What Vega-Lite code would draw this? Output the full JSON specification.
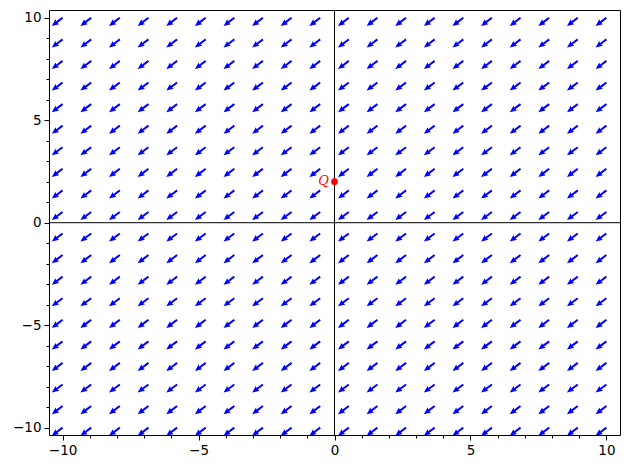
{
  "$schema": "https://vega.github.io/schema/vega-lite/v6.json",
  "width": 571,
  "height": 425,
  "autosize": {"type": "none"},
  "padding": {"left": 49, "top": 10, "right": 10, "bottom": 35},
  "background": "white",
  "config": {
    "view": {"stroke": "black", "strokeWidth": 1},
    "axis": {"labelFont": "DejaVu Sans", "labelFontSize": 13.5, "labelColor": "black", "tickColor": "black", "domain": false, "grid": false, "title": null}
  },
  "datasets": {
    "field": [
      {"x":-10,"y":-10},{"x":-8.947,"y":-10},{"x":-7.895,"y":-10},{"x":-6.842,"y":-10},{"x":-5.789,"y":-10},{"x":-4.737,"y":-10},{"x":-3.684,"y":-10},{"x":-2.632,"y":-10},{"x":-1.579,"y":-10},{"x":-0.526,"y":-10},{"x":0.526,"y":-10},{"x":1.579,"y":-10},{"x":2.632,"y":-10},{"x":3.684,"y":-10},{"x":4.737,"y":-10},{"x":5.789,"y":-10},{"x":6.842,"y":-10},{"x":7.895,"y":-10},{"x":8.947,"y":-10},{"x":10,"y":-10},
      {"x":-10,"y":-8.947},{"x":-8.947,"y":-8.947},{"x":-7.895,"y":-8.947},{"x":-6.842,"y":-8.947},{"x":-5.789,"y":-8.947},{"x":-4.737,"y":-8.947},{"x":-3.684,"y":-8.947},{"x":-2.632,"y":-8.947},{"x":-1.579,"y":-8.947},{"x":-0.526,"y":-8.947},{"x":0.526,"y":-8.947},{"x":1.579,"y":-8.947},{"x":2.632,"y":-8.947},{"x":3.684,"y":-8.947},{"x":4.737,"y":-8.947},{"x":5.789,"y":-8.947},{"x":6.842,"y":-8.947},{"x":7.895,"y":-8.947},{"x":8.947,"y":-8.947},{"x":10,"y":-8.947},
      {"x":-10,"y":-7.895},{"x":-8.947,"y":-7.895},{"x":-7.895,"y":-7.895},{"x":-6.842,"y":-7.895},{"x":-5.789,"y":-7.895},{"x":-4.737,"y":-7.895},{"x":-3.684,"y":-7.895},{"x":-2.632,"y":-7.895},{"x":-1.579,"y":-7.895},{"x":-0.526,"y":-7.895},{"x":0.526,"y":-7.895},{"x":1.579,"y":-7.895},{"x":2.632,"y":-7.895},{"x":3.684,"y":-7.895},{"x":4.737,"y":-7.895},{"x":5.789,"y":-7.895},{"x":6.842,"y":-7.895},{"x":7.895,"y":-7.895},{"x":8.947,"y":-7.895},{"x":10,"y":-7.895},
      {"x":-10,"y":-6.842},{"x":-8.947,"y":-6.842},{"x":-7.895,"y":-6.842},{"x":-6.842,"y":-6.842},{"x":-5.789,"y":-6.842},{"x":-4.737,"y":-6.842},{"x":-3.684,"y":-6.842},{"x":-2.632,"y":-6.842},{"x":-1.579,"y":-6.842},{"x":-0.526,"y":-6.842},{"x":0.526,"y":-6.842},{"x":1.579,"y":-6.842},{"x":2.632,"y":-6.842},{"x":3.684,"y":-6.842},{"x":4.737,"y":-6.842},{"x":5.789,"y":-6.842},{"x":6.842,"y":-6.842},{"x":7.895,"y":-6.842},{"x":8.947,"y":-6.842},{"x":10,"y":-6.842},
      {"x":-10,"y":-5.789},{"x":-8.947,"y":-5.789},{"x":-7.895,"y":-5.789},{"x":-6.842,"y":-5.789},{"x":-5.789,"y":-5.789},{"x":-4.737,"y":-5.789},{"x":-3.684,"y":-5.789},{"x":-2.632,"y":-5.789},{"x":-1.579,"y":-5.789},{"x":-0.526,"y":-5.789},{"x":0.526,"y":-5.789},{"x":1.579,"y":-5.789},{"x":2.632,"y":-5.789},{"x":3.684,"y":-5.789},{"x":4.737,"y":-5.789},{"x":5.789,"y":-5.789},{"x":6.842,"y":-5.789},{"x":7.895,"y":-5.789},{"x":8.947,"y":-5.789},{"x":10,"y":-5.789},
      {"x":-10,"y":-4.737},{"x":-8.947,"y":-4.737},{"x":-7.895,"y":-4.737},{"x":-6.842,"y":-4.737},{"x":-5.789,"y":-4.737},{"x":-4.737,"y":-4.737},{"x":-3.684,"y":-4.737},{"x":-2.632,"y":-4.737},{"x":-1.579,"y":-4.737},{"x":-0.526,"y":-4.737},{"x":0.526,"y":-4.737},{"x":1.579,"y":-4.737},{"x":2.632,"y":-4.737},{"x":3.684,"y":-4.737},{"x":4.737,"y":-4.737},{"x":5.789,"y":-4.737},{"x":6.842,"y":-4.737},{"x":7.895,"y":-4.737},{"x":8.947,"y":-4.737},{"x":10,"y":-4.737},
      {"x":-10,"y":-3.684},{"x":-8.947,"y":-3.684},{"x":-7.895,"y":-3.684},{"x":-6.842,"y":-3.684},{"x":-5.789,"y":-3.684},{"x":-4.737,"y":-3.684},{"x":-3.684,"y":-3.684},{"x":-2.632,"y":-3.684},{"x":-1.579,"y":-3.684},{"x":-0.526,"y":-3.684},{"x":0.526,"y":-3.684},{"x":1.579,"y":-3.684},{"x":2.632,"y":-3.684},{"x":3.684,"y":-3.684},{"x":4.737,"y":-3.684},{"x":5.789,"y":-3.684},{"x":6.842,"y":-3.684},{"x":7.895,"y":-3.684},{"x":8.947,"y":-3.684},{"x":10,"y":-3.684},
      {"x":-10,"y":-2.632},{"x":-8.947,"y":-2.632},{"x":-7.895,"y":-2.632},{"x":-6.842,"y":-2.632},{"x":-5.789,"y":-2.632},{"x":-4.737,"y":-2.632},{"x":-3.684,"y":-2.632},{"x":-2.632,"y":-2.632},{"x":-1.579,"y":-2.632},{"x":-0.526,"y":-2.632},{"x":0.526,"y":-2.632},{"x":1.579,"y":-2.632},{"x":2.632,"y":-2.632},{"x":3.684,"y":-2.632},{"x":4.737,"y":-2.632},{"x":5.789,"y":-2.632},{"x":6.842,"y":-2.632},{"x":7.895,"y":-2.632},{"x":8.947,"y":-2.632},{"x":10,"y":-2.632},
      {"x":-10,"y":-1.579},{"x":-8.947,"y":-1.579},{"x":-7.895,"y":-1.579},{"x":-6.842,"y":-1.579},{"x":-5.789,"y":-1.579},{"x":-4.737,"y":-1.579},{"x":-3.684,"y":-1.579},{"x":-2.632,"y":-1.579},{"x":-1.579,"y":-1.579},{"x":-0.526,"y":-1.579},{"x":0.526,"y":-1.579},{"x":1.579,"y":-1.579},{"x":2.632,"y":-1.579},{"x":3.684,"y":-1.579},{"x":4.737,"y":-1.579},{"x":5.789,"y":-1.579},{"x":6.842,"y":-1.579},{"x":7.895,"y":-1.579},{"x":8.947,"y":-1.579},{"x":10,"y":-1.579},
      {"x":-10,"y":-0.526},{"x":-8.947,"y":-0.526},{"x":-7.895,"y":-0.526},{"x":-6.842,"y":-0.526},{"x":-5.789,"y":-0.526},{"x":-4.737,"y":-0.526},{"x":-3.684,"y":-0.526},{"x":-2.632,"y":-0.526},{"x":-1.579,"y":-0.526},{"x":-0.526,"y":-0.526},{"x":0.526,"y":-0.526},{"x":1.579,"y":-0.526},{"x":2.632,"y":-0.526},{"x":3.684,"y":-0.526},{"x":4.737,"y":-0.526},{"x":5.789,"y":-0.526},{"x":6.842,"y":-0.526},{"x":7.895,"y":-0.526},{"x":8.947,"y":-0.526},{"x":10,"y":-0.526},
      {"x":-10,"y":0.526},{"x":-8.947,"y":0.526},{"x":-7.895,"y":0.526},{"x":-6.842,"y":0.526},{"x":-5.789,"y":0.526},{"x":-4.737,"y":0.526},{"x":-3.684,"y":0.526},{"x":-2.632,"y":0.526},{"x":-1.579,"y":0.526},{"x":-0.526,"y":0.526},{"x":0.526,"y":0.526},{"x":1.579,"y":0.526},{"x":2.632,"y":0.526},{"x":3.684,"y":0.526},{"x":4.737,"y":0.526},{"x":5.789,"y":0.526},{"x":6.842,"y":0.526},{"x":7.895,"y":0.526},{"x":8.947,"y":0.526},{"x":10,"y":0.526},
      {"x":-10,"y":1.579},{"x":-8.947,"y":1.579},{"x":-7.895,"y":1.579},{"x":-6.842,"y":1.579},{"x":-5.789,"y":1.579},{"x":-4.737,"y":1.579},{"x":-3.684,"y":1.579},{"x":-2.632,"y":1.579},{"x":-1.579,"y":1.579},{"x":-0.526,"y":1.579},{"x":0.526,"y":1.579},{"x":1.579,"y":1.579},{"x":2.632,"y":1.579},{"x":3.684,"y":1.579},{"x":4.737,"y":1.579},{"x":5.789,"y":1.579},{"x":6.842,"y":1.579},{"x":7.895,"y":1.579},{"x":8.947,"y":1.579},{"x":10,"y":1.579},
      {"x":-10,"y":2.632},{"x":-8.947,"y":2.632},{"x":-7.895,"y":2.632},{"x":-6.842,"y":2.632},{"x":-5.789,"y":2.632},{"x":-4.737,"y":2.632},{"x":-3.684,"y":2.632},{"x":-2.632,"y":2.632},{"x":-1.579,"y":2.632},{"x":-0.526,"y":2.632},{"x":0.526,"y":2.632},{"x":1.579,"y":2.632},{"x":2.632,"y":2.632},{"x":3.684,"y":2.632},{"x":4.737,"y":2.632},{"x":5.789,"y":2.632},{"x":6.842,"y":2.632},{"x":7.895,"y":2.632},{"x":8.947,"y":2.632},{"x":10,"y":2.632},
      {"x":-10,"y":3.684},{"x":-8.947,"y":3.684},{"x":-7.895,"y":3.684},{"x":-6.842,"y":3.684},{"x":-5.789,"y":3.684},{"x":-4.737,"y":3.684},{"x":-3.684,"y":3.684},{"x":-2.632,"y":3.684},{"x":-1.579,"y":3.684},{"x":-0.526,"y":3.684},{"x":0.526,"y":3.684},{"x":1.579,"y":3.684},{"x":2.632,"y":3.684},{"x":3.684,"y":3.684},{"x":4.737,"y":3.684},{"x":5.789,"y":3.684},{"x":6.842,"y":3.684},{"x":7.895,"y":3.684},{"x":8.947,"y":3.684},{"x":10,"y":3.684},
      {"x":-10,"y":4.737},{"x":-8.947,"y":4.737},{"x":-7.895,"y":4.737},{"x":-6.842,"y":4.737},{"x":-5.789,"y":4.737},{"x":-4.737,"y":4.737},{"x":-3.684,"y":4.737},{"x":-2.632,"y":4.737},{"x":-1.579,"y":4.737},{"x":-0.526,"y":4.737},{"x":0.526,"y":4.737},{"x":1.579,"y":4.737},{"x":2.632,"y":4.737},{"x":3.684,"y":4.737},{"x":4.737,"y":4.737},{"x":5.789,"y":4.737},{"x":6.842,"y":4.737},{"x":7.895,"y":4.737},{"x":8.947,"y":4.737},{"x":10,"y":4.737},
      {"x":-10,"y":5.789},{"x":-8.947,"y":5.789},{"x":-7.895,"y":5.789},{"x":-6.842,"y":5.789},{"x":-5.789,"y":5.789},{"x":-4.737,"y":5.789},{"x":-3.684,"y":5.789},{"x":-2.632,"y":5.789},{"x":-1.579,"y":5.789},{"x":-0.526,"y":5.789},{"x":0.526,"y":5.789},{"x":1.579,"y":5.789},{"x":2.632,"y":5.789},{"x":3.684,"y":5.789},{"x":4.737,"y":5.789},{"x":5.789,"y":5.789},{"x":6.842,"y":5.789},{"x":7.895,"y":5.789},{"x":8.947,"y":5.789},{"x":10,"y":5.789},
      {"x":-10,"y":6.842},{"x":-8.947,"y":6.842},{"x":-7.895,"y":6.842},{"x":-6.842,"y":6.842},{"x":-5.789,"y":6.842},{"x":-4.737,"y":6.842},{"x":-3.684,"y":6.842},{"x":-2.632,"y":6.842},{"x":-1.579,"y":6.842},{"x":-0.526,"y":6.842},{"x":0.526,"y":6.842},{"x":1.579,"y":6.842},{"x":2.632,"y":6.842},{"x":3.684,"y":6.842},{"x":4.737,"y":6.842},{"x":5.789,"y":6.842},{"x":6.842,"y":6.842},{"x":7.895,"y":6.842},{"x":8.947,"y":6.842},{"x":10,"y":6.842},
      {"x":-10,"y":7.895},{"x":-8.947,"y":7.895},{"x":-7.895,"y":7.895},{"x":-6.842,"y":7.895},{"x":-5.789,"y":7.895},{"x":-4.737,"y":7.895},{"x":-3.684,"y":7.895},{"x":-2.632,"y":7.895},{"x":-1.579,"y":7.895},{"x":-0.526,"y":7.895},{"x":0.526,"y":7.895},{"x":1.579,"y":7.895},{"x":2.632,"y":7.895},{"x":3.684,"y":7.895},{"x":4.737,"y":7.895},{"x":5.789,"y":7.895},{"x":6.842,"y":7.895},{"x":7.895,"y":7.895},{"x":8.947,"y":7.895},{"x":10,"y":7.895},
      {"x":-10,"y":8.947},{"x":-8.947,"y":8.947},{"x":-7.895,"y":8.947},{"x":-6.842,"y":8.947},{"x":-5.789,"y":8.947},{"x":-4.737,"y":8.947},{"x":-3.684,"y":8.947},{"x":-2.632,"y":8.947},{"x":-1.579,"y":8.947},{"x":-0.526,"y":8.947},{"x":0.526,"y":8.947},{"x":1.579,"y":8.947},{"x":2.632,"y":8.947},{"x":3.684,"y":8.947},{"x":4.737,"y":8.947},{"x":5.789,"y":8.947},{"x":6.842,"y":8.947},{"x":7.895,"y":8.947},{"x":8.947,"y":8.947},{"x":10,"y":8.947},
      {"x":-10,"y":10},{"x":-8.947,"y":10},{"x":-7.895,"y":10},{"x":-6.842,"y":10},{"x":-5.789,"y":10},{"x":-4.737,"y":10},{"x":-3.684,"y":10},{"x":-2.632,"y":10},{"x":-1.579,"y":10},{"x":-0.526,"y":10},{"x":0.526,"y":10},{"x":1.579,"y":10},{"x":2.632,"y":10},{"x":3.684,"y":10},{"x":4.737,"y":10},{"x":5.789,"y":10},{"x":6.842,"y":10},{"x":7.895,"y":10},{"x":8.947,"y":10},{"x":10,"y":10}
    ],
    "pt": [{"x": 0, "y": 2, "label": "Q"}],
    "axes": [{"x": 0, "y": 0}]
  },
  "resolve": {"axis": {"x": "independent", "y": "independent"}},
  "layer": [
    {
      "data": {"name": "axes"},
      "mark": {"type": "rule", "color": "black", "strokeWidth": 1},
      "encoding": {"x": {"field": "x", "type": "quantitative", "scale": {"domain": [-10.5, 10.5], "nice": false, "zero": false}, "axis": null}}
    },
    {
      "data": {"name": "axes"},
      "mark": {"type": "rule", "color": "black", "strokeWidth": 1},
      "encoding": {"y": {"field": "y", "type": "quantitative", "scale": {"domain": [-10.36, 10.38], "nice": false, "zero": false}, "axis": null}}
    },
    {
      "data": {"name": "field"},
      "mark": {"type": "point", "shape": "M0,-1L7.2,-1L6.6,-3L13.5,0L6.6,3L7.2,1L0,1Z", "size": 4, "angle": 143, "filled": true, "color": "#0000ff", "opacity": 1, "strokeWidth": 0, "clip": true},
      "encoding": {
        "x": {"field": "x", "type": "quantitative", "scale": {"domain": [-10.5, 10.5], "nice": false, "zero": false}, "axis": {"orient": "bottom", "values": [-10, -5, 0, 5, 10], "tickSize": 5, "labelPadding": 3}},
        "y": {"field": "y", "type": "quantitative", "scale": {"domain": [-10.36, 10.38], "nice": false, "zero": false}, "axis": {"orient": "left", "values": [-10, -5, 0, 5, 10], "tickSize": 5, "labelPadding": 3}}
      }
    },
    {
      "data": {"name": "pt"},
      "mark": {"type": "point", "shape": "circle", "size": 45, "filled": true, "color": "#ff0000", "opacity": 1},
      "encoding": {
        "x": {"field": "x", "type": "quantitative", "axis": {"orient": "bottom", "values": [-10,-9,-8,-7,-6,-5,-4,-3,-2,-1,0,1,2,3,4,5,6,7,8,9,10], "tickSize": 3, "labels": false}},
        "y": {"field": "y", "type": "quantitative", "axis": {"orient": "left", "values": [-10,-9,-8,-7,-6,-5,-4,-3,-2,-1,0,1,2,3,4,5,6,7,8,9,10], "tickSize": 3, "labels": false}}
      }
    },
    {
      "data": {"name": "pt"},
      "mark": {"type": "text", "font": "DejaVu Serif", "fontStyle": "italic", "fontSize": 13, "color": "#ff0000", "align": "center", "baseline": "middle", "dx": -11, "dy": -1},
      "encoding": {
        "x": {"field": "x", "type": "quantitative", "axis": null},
        "y": {"field": "y", "type": "quantitative", "axis": null},
        "text": {"field": "label"}
      }
    }
  ]
}
